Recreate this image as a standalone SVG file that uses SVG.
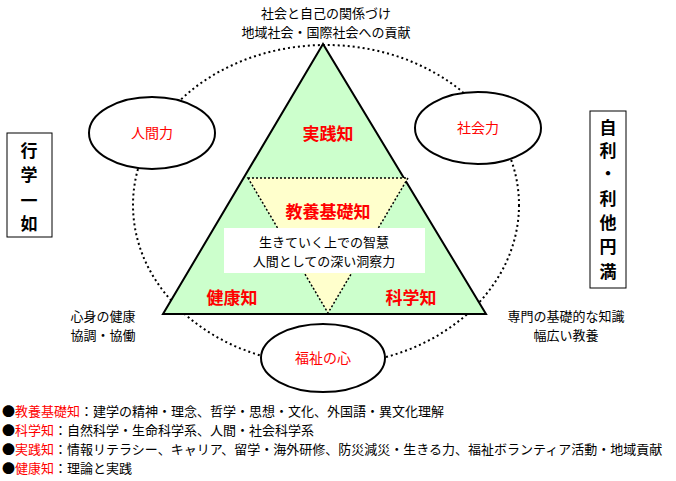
<svg xmlns="http://www.w3.org/2000/svg" width="676" height="481" viewBox="0 0 676 481">
<style>
text{font-family:"Noto Sans CJK JP","Noto Sans CJK SC",sans-serif;fill:#000}
.r{fill:#f00;font-weight:bold}
.s{font-size:13px}
.b{font-size:17px;font-weight:bold}
.oval{fill:#fff;stroke:#000;stroke-width:2}
</style>
<rect width="676" height="481" fill="#fff"/>
<g id="ring"><ellipse cx="326" cy="205" rx="193" ry="160" fill="none" stroke="#000" stroke-width="2" stroke-dasharray="2,3"/></g>
<g id="triangle">
<polygon points="323,44 163,314 486,314" fill="#ccffcc" stroke="#000" stroke-width="2"/>
<polygon points="248,178 408,178 328,313" fill="#ffffcc" stroke="#000" stroke-width="1.5" stroke-dasharray="2,2"/>
<text x="328" y="140" text-anchor="middle" class="r" font-size="17">実践知</text>
<text x="328" y="218" text-anchor="middle" class="r" font-size="17">教養基礎知</text>
<text x="232" y="304" text-anchor="middle" class="r" font-size="17">健康知</text>
<text x="411" y="304" text-anchor="middle" class="r" font-size="17">科学知</text>
</g>
<g id="wisdom">
<rect x="224" y="228" width="201" height="45" fill="#fff"/>
<text x="324" y="247" text-anchor="middle" class="s">生きていく上での智慧</text>
<text x="324" y="266" text-anchor="middle" class="s">人間としての深い洞察力</text>
</g>
<g id="jinkan"><ellipse class="oval" cx="152" cy="133" rx="63" ry="36"/><text x="152" y="138" text-anchor="middle" font-size="14" style="fill:#f00">人間力</text></g>
<g id="shakai"><ellipse class="oval" cx="478" cy="128" rx="63" ry="36"/><text x="478" y="133" text-anchor="middle" font-size="14" style="fill:#f00">社会力</text></g>
<g id="fukushi"><ellipse class="oval" cx="323" cy="358" rx="62" ry="34"/><text x="323" y="363" text-anchor="middle" font-size="14" style="fill:#f00">福祉の心</text></g>
<g id="top"><text x="326" y="18" text-anchor="middle" class="s">社会と自己の関係づけ</text><text x="326" y="37" text-anchor="middle" class="s">地域社会・国際社会への貢献</text></g>
<g id="left"><text x="103" y="321" text-anchor="middle" class="s">心身の健康</text><text x="103" y="340" text-anchor="middle" class="s">協調・協働</text></g>
<g id="right"><text x="566" y="321" text-anchor="middle" class="s">専門の基礎的な知識</text><text x="566" y="340" text-anchor="middle" class="s">幅広い教養</text></g>
<g id="gyogaku"><rect x="7" y="133" width="45" height="104" fill="#fff" stroke="#000"/>
<text x="29" y="157" text-anchor="middle" class="b">行</text><text x="29" y="181" text-anchor="middle" class="b">学</text><text x="29" y="207" text-anchor="middle" class="b">一</text><text x="29" y="230" text-anchor="middle" class="b">如</text></g>
<g id="jiri"><rect x="590" y="111" width="36" height="177" fill="#fff" stroke="#000"/>
<text x="608" y="134" text-anchor="middle" class="b">自</text><text x="608" y="157" text-anchor="middle" class="b">利</text><text x="608" y="180" text-anchor="middle" class="b">・</text><text x="608" y="205" text-anchor="middle" class="b">利</text><text x="608" y="229" text-anchor="middle" class="b">他</text><text x="608" y="253" text-anchor="middle" class="b">円</text><text x="608" y="278" text-anchor="middle" class="b">満</text></g>
<g id="legend">
<text x="2" y="416" class="s">●<tspan style="fill:#f00">教養基礎知</tspan>：建学の精神・理念、哲学・思想・文化、外国語・異文化理解</text>
<text x="2" y="435" class="s">●<tspan style="fill:#f00">科学知</tspan>：自然科学・生命科学系、人間・社会科学系</text>
<text x="2" y="454" class="s">●<tspan style="fill:#f00">実践知</tspan>：情報リテラシー、キャリア、留学・海外研修、防災減災・生きる力、福祉ボランティア活動・地域貢献</text>
<text x="2" y="473" class="s">●<tspan style="fill:#f00">健康知</tspan>：理論と実践</text>
</g>
</svg>
